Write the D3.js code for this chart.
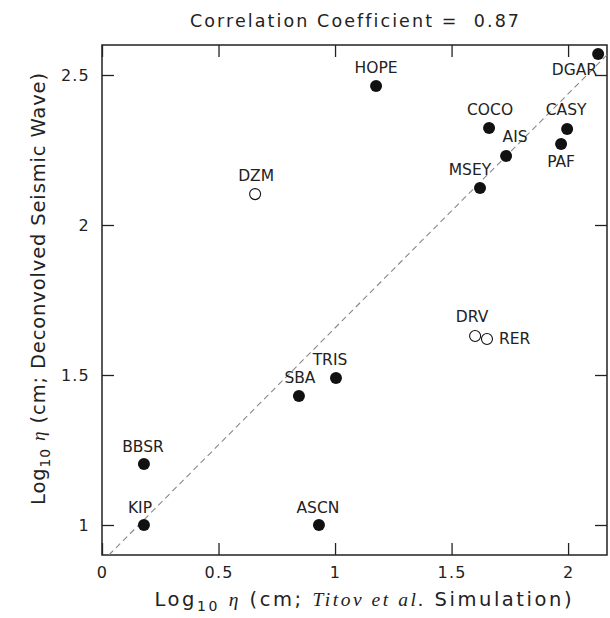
<!DOCTYPE html>
<html>
<head>
<meta charset="utf-8">
<script src="https://cdn.jsdelivr.net/npm/d3@7"></script>
<style>
  html, body { margin: 0; padding: 0; background: #fff; }
  text { font-family: "DejaVu Sans", "Liberation Sans", sans-serif; fill: #222;
         font-variant-ligatures: none; }
</style>
</head>
<body>
<svg id="chart" width="610" height="618"></svg>
<script>
// Tide-gauge stations: log10 amplitude, simulation (x) vs deconvolved seismic wave (y)
const stations = ["DGAR", "HOPE", "COCO", "CASY", "AIS", "PAF", "MSEY", "DZM",
                  "DRV", "RER", "TRIS", "SBA", "BBSR", "KIP", "ASCN"];
const simulated = [2.129, 1.176, 1.661, 1.996, 1.734, 1.970, 1.622, 0.657,
                   1.601, 1.652, 1.004, 0.845, 0.180, 0.180, 0.931];
const seismic   = [2.570, 2.463, 2.323, 2.320, 2.230, 2.270, 2.123, 2.103,
                   1.630, 1.620, 1.490, 1.430, 1.203, 1.000, 1.000];
// open circles mark stations handled separately
const openMarker = [false, false, false, false, false, false, false, true,
                    true, true, false, false, false, false, false];
const correlation = 0.87;
const xTicks = [0, 0.5, 1, 1.5, 2];
const yTicks = [1, 1.5, 2, 2.5];
const xTickLabels = ["0", "0.5", "1", "1.5", "2"];
const yTickLabels = ["1", "1.5", "2", "2.5"];
// trend line: intercept and slope in log units
const fitIntercept = 0.877;
const fitSlope = 0.78;

// label placement relative to each marker: [anchor, dx, dy]
const labelPlacement = {
  DGAR: ["end", -1, 21], HOPE: ["middle", 0, -13], COCO: ["middle", 1, -13],
  CASY: ["middle", -1, -14], AIS: ["middle", 9, -14], PAF: ["middle", 0, 23],
  MSEY: ["middle", -10, -13], DZM: ["middle", 1, -13], DRV: ["middle", -3, -14],
  RER: ["start", 12, 5], TRIS: ["middle", -6, -13], SBA: ["middle", 1, -13],
  BBSR: ["middle", -1, -12], KIP: ["middle", -4, -12], ASCN: ["middle", -1, -12]
};

const svg = d3.select("#chart");
const plotLeft = 102, plotRight = 607, plotTop = 45, plotBottom = 555;

const x = d3.scaleLinear().domain([0, 2.167]).range([plotLeft, plotRight]);
const y = d3.scaleLinear().domain([0.9, 2.6]).range([plotBottom, plotTop]);

const tickLen = 12;
const ink = "#222";

// inward ticks on all four sides
function frameAxis(axis, transform) {
  const g = svg.append("g").attr("transform", transform).call(axis);
  g.select(".domain").remove();
  g.selectAll(".tick line").attr("stroke", ink).attr("stroke-width", 1.3);
  return g;
}
const bx = frameAxis(d3.axisBottom(x).tickValues(xTicks).tickSizeInner(-tickLen).tickPadding(12)
  .tickFormat((d, i) => xTickLabels[i]), `translate(0,${plotBottom})`);
bx.selectAll("text").attr("font-size", 16).attr("letter-spacing", 1.2)
  .attr("font-family", "DejaVu Sans").attr("fill", ink);
frameAxis(d3.axisTop(x).tickValues(xTicks).tickSizeInner(-tickLen).tickFormat(""), `translate(0,${plotTop})`);
const ly = frameAxis(d3.axisLeft(y).tickValues(yTicks).tickSizeInner(-tickLen).tickPadding(12)
  .tickFormat((d, i) => yTickLabels[i]), `translate(${plotLeft},0)`);
ly.selectAll("text").attr("font-size", 16).attr("letter-spacing", 1.2)
  .attr("font-family", "DejaVu Sans").attr("fill", ink);
frameAxis(d3.axisRight(y).tickValues(yTicks).tickSizeInner(-tickLen).tickFormat(""), `translate(${plotRight},0)`);

// frame
svg.append("rect")
  .attr("x", plotLeft).attr("y", plotTop)
  .attr("width", plotRight - plotLeft).attr("height", plotBottom - plotTop)
  .attr("fill", "none").attr("stroke", ink).attr("stroke-width", 1.5);

// dashed trend line, clipped to the frame
svg.append("clipPath").attr("id", "plot-clip")
  .append("rect").attr("x", plotLeft).attr("y", plotTop)
  .attr("width", plotRight - plotLeft).attr("height", plotBottom - plotTop);
const xStart = (0.9 - fitIntercept) / fitSlope;
const xEnd = x.domain()[1];
svg.append("line")
  .attr("clip-path", "url(#plot-clip)")
  .attr("x1", x(xStart)).attr("y1", y(fitIntercept + fitSlope * xStart))
  .attr("x2", x(xEnd)).attr("y2", y(fitIntercept + fitSlope * xEnd))
  .attr("stroke", "#888").attr("stroke-width", 1.1)
  .attr("stroke-dasharray", "6,4");

// station markers
const pts = stations.map((s, i) => ({ name: s, sx: simulated[i], sy: seismic[i], open: openMarker[i] }));
svg.append("g").selectAll("circle").data(pts).join("circle")
  .attr("cx", d => x(d.sx)).attr("cy", d => y(d.sy))
  .attr("r", d => d.open ? 5.5 : 6)
  .attr("fill", d => d.open ? "#fff" : "#111")
  .attr("stroke", "#111").attr("stroke-width", d => d.open ? 1.1 : 0);

// station labels
svg.append("g").selectAll("text").data(pts).join("text")
  .attr("x", d => x(d.sx) + labelPlacement[d.name][1])
  .attr("y", d => y(d.sy) + labelPlacement[d.name][2])
  .attr("text-anchor", d => labelPlacement[d.name][0])
  .attr("font-size", 15.5)
  .text(d => d.name);

// title
svg.append("text")
  .attr("x", (plotLeft + plotRight) / 2).attr("y", 27)
  .attr("text-anchor", "middle").attr("font-size", 17.5)
  .attr("textLength", 329).attr("lengthAdjust", "spacing")
  .attr("xml:space", "preserve")
  .text(`Correlation Coefficient =  ${correlation.toFixed(2)}`);

// x-axis title
const xt = svg.append("text")
  .attr("x", 363).attr("y", 606)
  .attr("text-anchor", "middle").attr("font-size", 19.5)
  .attr("textLength", 417).attr("lengthAdjust", "spacing");
xt.append("tspan").text("Log");
xt.append("tspan").attr("font-size", 14).attr("dy", 5).text("10");
xt.append("tspan").attr("dy", -5).text(" ");
xt.append("tspan").attr("font-family", "'Liberation Serif', serif").attr("font-style", "italic").text("η");
xt.append("tspan").text(" (cm; ");
xt.append("tspan").attr("font-family", "'Liberation Serif', serif").attr("font-style", "italic").text("Titov et al.");
xt.append("tspan").text(" Simulation)");

// y-axis title
const yt = svg.append("text")
  .attr("transform", "translate(45,289) rotate(-90)")
  .attr("text-anchor", "middle").attr("font-size", 19.5)
  .attr("textLength", 432).attr("lengthAdjust", "spacing");
yt.append("tspan").text("Log");
yt.append("tspan").attr("font-size", 14).attr("dy", 5).text("10");
yt.append("tspan").attr("dy", -5).text(" ");
yt.append("tspan").attr("font-family", "'Liberation Serif', serif").attr("font-style", "italic").text("η");
yt.append("tspan").text(" (cm; Deconvolved Seismic Wave)");
</script>
</body>
</html>
